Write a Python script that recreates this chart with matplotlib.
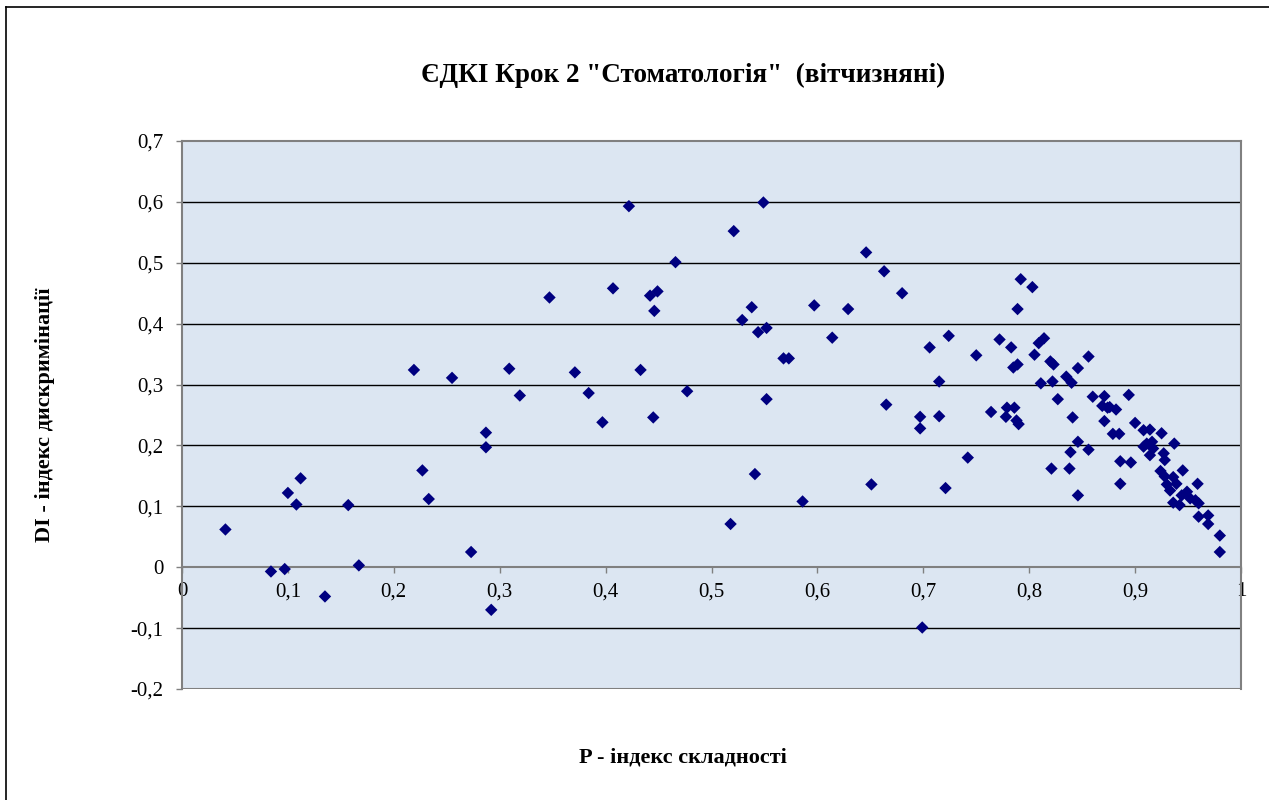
import matplotlib.pyplot as plt
from matplotlib.lines import Line2D
from matplotlib.ticker import FuncFormatter, MultipleLocator

# P - difficulty index
p_index = [
    0.041, 0.084, 0.097, 0.100, 0.108, 0.112, 0.135, 0.157, 0.167, 0.219,
    0.227, 0.233, 0.255, 0.273, 0.287, 0.287, 0.292, 0.309, 0.319, 0.347,
    0.371, 0.384, 0.397, 0.407, 0.422, 0.433, 0.442, 0.446, 0.449, 0.445,
    0.466, 0.477, 0.518, 0.521, 0.529, 0.538, 0.541, 0.544, 0.549, 0.552,
    0.552, 0.568, 0.573, 0.586, 0.597, 0.614, 0.629, 0.646, 0.651, 0.663,
    0.665, 0.680, 0.697, 0.697, 0.699, 0.706, 0.715, 0.715, 0.721, 0.724,
    0.742, 0.750, 0.764, 0.772, 0.779, 0.786, 0.778, 0.783, 0.785, 0.789,
    0.789, 0.792, 0.803, 0.788, 0.790, 0.805, 0.809, 0.814, 0.811, 0.820,
    0.823, 0.822, 0.821, 0.827, 0.835, 0.840, 0.838, 0.839, 0.841, 0.846,
    0.846, 0.846, 0.856, 0.856, 0.860, 0.871, 0.869, 0.874, 0.876, 0.882,
    0.894, 0.871, 0.900, 0.879, 0.885, 0.886, 0.896, 0.886, 0.908, 0.914,
    0.925, 0.911, 0.916, 0.908, 0.917, 0.914, 0.937, 0.927, 0.928, 0.924,
    0.928, 0.936, 0.939, 0.945, 0.930, 0.933, 0.949, 0.944, 0.952, 0.957,
    0.936, 0.942, 0.959, 0.960, 0.960, 0.969, 0.969, 0.980, 0.980,
]

# DI - discrimination index
di_index = [
    0.062, -0.007, -0.003, 0.122, 0.103, 0.146, -0.048, 0.102, 0.003, 0.324,
    0.159, 0.112, 0.311, 0.025, 0.221, 0.197, -0.070, 0.326, 0.282, 0.443,
    0.320, 0.286, 0.238, 0.458, 0.593, 0.324, 0.446, 0.421, 0.453, 0.246,
    0.501, 0.289, 0.071, 0.552, 0.406, 0.427, 0.153, 0.386, 0.599, 0.393,
    0.276, 0.343, 0.343, 0.108, 0.430, 0.377, 0.424, 0.517, 0.136, 0.486,
    0.267, 0.450, 0.247, 0.228, -0.099, 0.361, 0.248, 0.305, 0.130, 0.380,
    0.180, 0.348, 0.255, 0.374, 0.262, 0.262, 0.247, 0.361, 0.328, 0.333,
    0.424, 0.473, 0.460, 0.241, 0.235, 0.349, 0.368, 0.376, 0.302, 0.338,
    0.333, 0.305, 0.162, 0.276, 0.313, 0.303, 0.162, 0.189, 0.246, 0.327,
    0.206, 0.118, 0.346, 0.193, 0.280, 0.281, 0.265, 0.262, 0.263, 0.259,
    0.283, 0.240, 0.237, 0.219, 0.219, 0.174, 0.172, 0.137, 0.225, 0.226,
    0.220, 0.203, 0.206, 0.198, 0.195, 0.184, 0.203, 0.187, 0.176, 0.158,
    0.149, 0.148, 0.137, 0.159, 0.136, 0.126, 0.124, 0.118, 0.113, 0.110,
    0.106, 0.102, 0.137, 0.105, 0.083, 0.085, 0.071, 0.052, 0.025,
]

title = 'ЄДКІ Крок 2 "Стоматологія"  (вітчизняні)'
x_label = "P - індекс складності"
y_label = "DI - індекс дискримінації"

plt.rcParams["font.family"] = ["Liberation Serif", "DejaVu Serif"]

fig = plt.figure(figsize=(12.69, 8), dpi=100)
ax = fig.add_axes([182 / 1269, 111 / 800, 1059 / 1269, 548 / 800])

# outer chart frame
fig.add_artist(Line2D([6 / 1269, 1], [1 - 7 / 800, 1 - 7 / 800], color="black", lw=1.2))
fig.add_artist(Line2D([6 / 1269, 6 / 1269], [0, 1 - 7 / 800], color="black", lw=1.2))

ax.set_facecolor("#dce6f2")
ax.set_xlim(0, 1)
ax.set_ylim(-0.2, 0.7)

for y in [-0.1, 0.1, 0.2, 0.3, 0.4, 0.5, 0.6]:
    ax.axhline(y, color="black", lw=1.0, zorder=1)
ax.axhline(-0.2, color="#808080", lw=1.5, zorder=1)

ax.scatter(p_index, di_index, marker="D", s=40, color="#000080",
           edgecolors="none", zorder=3)

ax.spines["bottom"].set_position(("data", 0))
for s in ax.spines.values():
    s.set_color("#808080")
    s.set_linewidth(1.5)

comma = FuncFormatter(lambda v, pos: ("%g" % round(v, 1)).replace(".", ","))
ax.xaxis.set_major_locator(MultipleLocator(0.1))
ax.yaxis.set_major_locator(MultipleLocator(0.1))
ax.xaxis.set_major_formatter(comma)
ax.yaxis.set_major_formatter(comma)
ax.tick_params(axis="both", labelsize=15, color="#808080", length=4, width=1)
ax.tick_params(axis="x", pad=7)
ax.tick_params(axis="y", pad=9.5)

fig.text(683 / 1269, 1 - 75 / 800, title, ha="center", va="center",
         fontsize=19.5, fontweight="bold")
fig.text(683 / 1269, 1 - 757 / 800, x_label, ha="center", va="center",
         fontsize=16, fontweight="bold")
fig.text(45 / 1269, 1 - 415 / 800, y_label, ha="center", va="center",
         rotation=90, fontsize=16, fontweight="bold")

plt.savefig("out.png", dpi=100)
